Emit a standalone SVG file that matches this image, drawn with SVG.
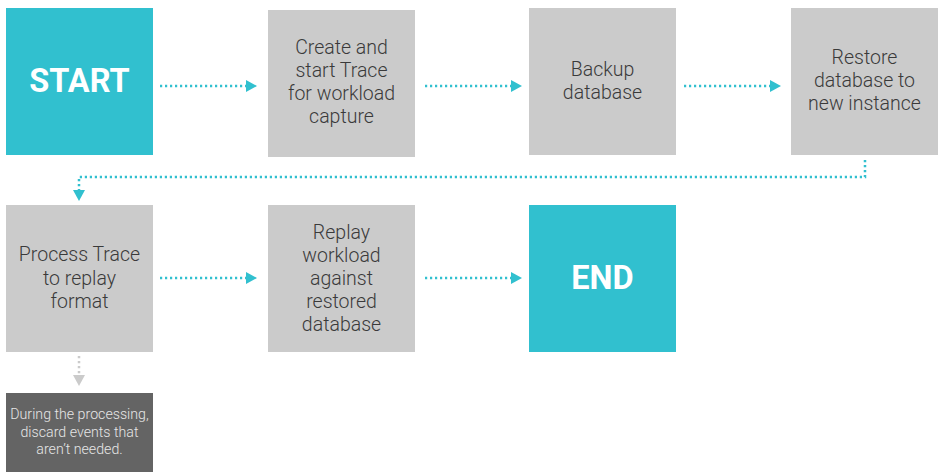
<svg xmlns="http://www.w3.org/2000/svg" width="941" height="472" viewBox="0 0 941 472">
<style>
.teal{fill:#31C0CF}
.grey{fill:#CBCBCB}
.dark{fill:#646464}
.lbl{font-family:Roboto,"Liberation Sans",sans-serif;font-weight:300;font-size:19.5px;fill:#3a3a3a;text-anchor:middle}
.big{font-family:Roboto,"Liberation Sans",sans-serif;font-weight:700;font-size:32.5px;fill:#fff;text-anchor:middle}
.note{font-family:Roboto,"Liberation Sans",sans-serif;font-weight:300;font-size:14.2px;fill:#e6e6e6;text-anchor:middle}
.con{fill:none;stroke:#31C0CF;stroke-width:2.5;stroke-dasharray:2.2 2.8}
.cong{fill:none;stroke:#CBCBCB;stroke-width:2.5;stroke-dasharray:2.2 2.8}
</style>
<defs>
<marker id="ah" markerWidth="12" markerHeight="12" refX="0" refY="6" orient="auto" markerUnits="userSpaceOnUse" viewBox="0 0 12 12">
<path d="M0,0 L11,6 L0,12 Z" fill="#31C0CF"/>
</marker>
<marker id="ahg" markerWidth="12" markerHeight="12" refX="0" refY="6" orient="auto" markerUnits="userSpaceOnUse" viewBox="0 0 12 12">
<path d="M0,0 L11,6 L0,12 Z" fill="#CBCBCB"/>
</marker>
</defs>
<g id="connectors">
<path class="con" d="M160,86 H246" marker-end="url(#ah)"/>
<path class="con" d="M425,86 H511" marker-end="url(#ah)"/>
<path class="con" d="M684,86 H770" marker-end="url(#ah)"/>
<path class="con" d="M865,160 V177 H79 V190" marker-end="url(#ah)"/>
<path class="con" d="M160,278 H246" marker-end="url(#ah)"/>
<path class="con" d="M425,278 H511" marker-end="url(#ah)"/>
<path class="cong" d="M79,356 V375" marker-end="url(#ahg)"/>
</g>
<g id="start">
<rect class="teal" x="6" y="8" width="147" height="147"/>
<text class="big" x="79.5" y="91.5">START</text>
</g>
<g id="create-trace">
<rect class="grey" x="268" y="10" width="147" height="147"/>
<text class="lbl" x="341.5" y="54">Create and</text>
<text class="lbl" x="341.5" y="77">start Trace</text>
<text class="lbl" x="341.5" y="100">for workload</text>
<text class="lbl" x="341.5" y="123">capture</text>
</g>
<g id="backup">
<rect class="grey" x="529" y="8" width="147" height="147"/>
<text class="lbl" x="602.5" y="76">Backup</text>
<text class="lbl" x="602.5" y="99">database</text>
</g>
<g id="restore">
<rect class="grey" x="791" y="8" width="147" height="147"/>
<text class="lbl" x="864.5" y="64">Restore</text>
<text class="lbl" x="864.5" y="87">database to</text>
<text class="lbl" x="864.5" y="110">new instance</text>
</g>
<g id="process">
<rect class="grey" x="6" y="205" width="147" height="147"/>
<text class="lbl" x="79.5" y="261">Process Trace</text>
<text class="lbl" x="79.5" y="285">to replay</text>
<text class="lbl" x="79.5" y="308">format</text>
</g>
<g id="replay">
<rect class="grey" x="268" y="205" width="147" height="147"/>
<text class="lbl" x="341.5" y="239">Replay</text>
<text class="lbl" x="341.5" y="262">workload</text>
<text class="lbl" x="341.5" y="285">against</text>
<text class="lbl" x="341.5" y="308">restored</text>
<text class="lbl" x="341.5" y="331">database</text>
</g>
<g id="end">
<rect class="teal" x="529" y="205" width="147" height="147"/>
<text class="big" x="602.5" y="288.5">END</text>
</g>
<g id="note">
<rect class="dark" x="6" y="393" width="147" height="79"/>
<text class="note" x="79.5" y="419">During the processing,</text>
<text class="note" x="79.5" y="437">discard events that</text>
<text class="note" x="79.5" y="454">aren’t needed.</text>
</g>
</svg>
